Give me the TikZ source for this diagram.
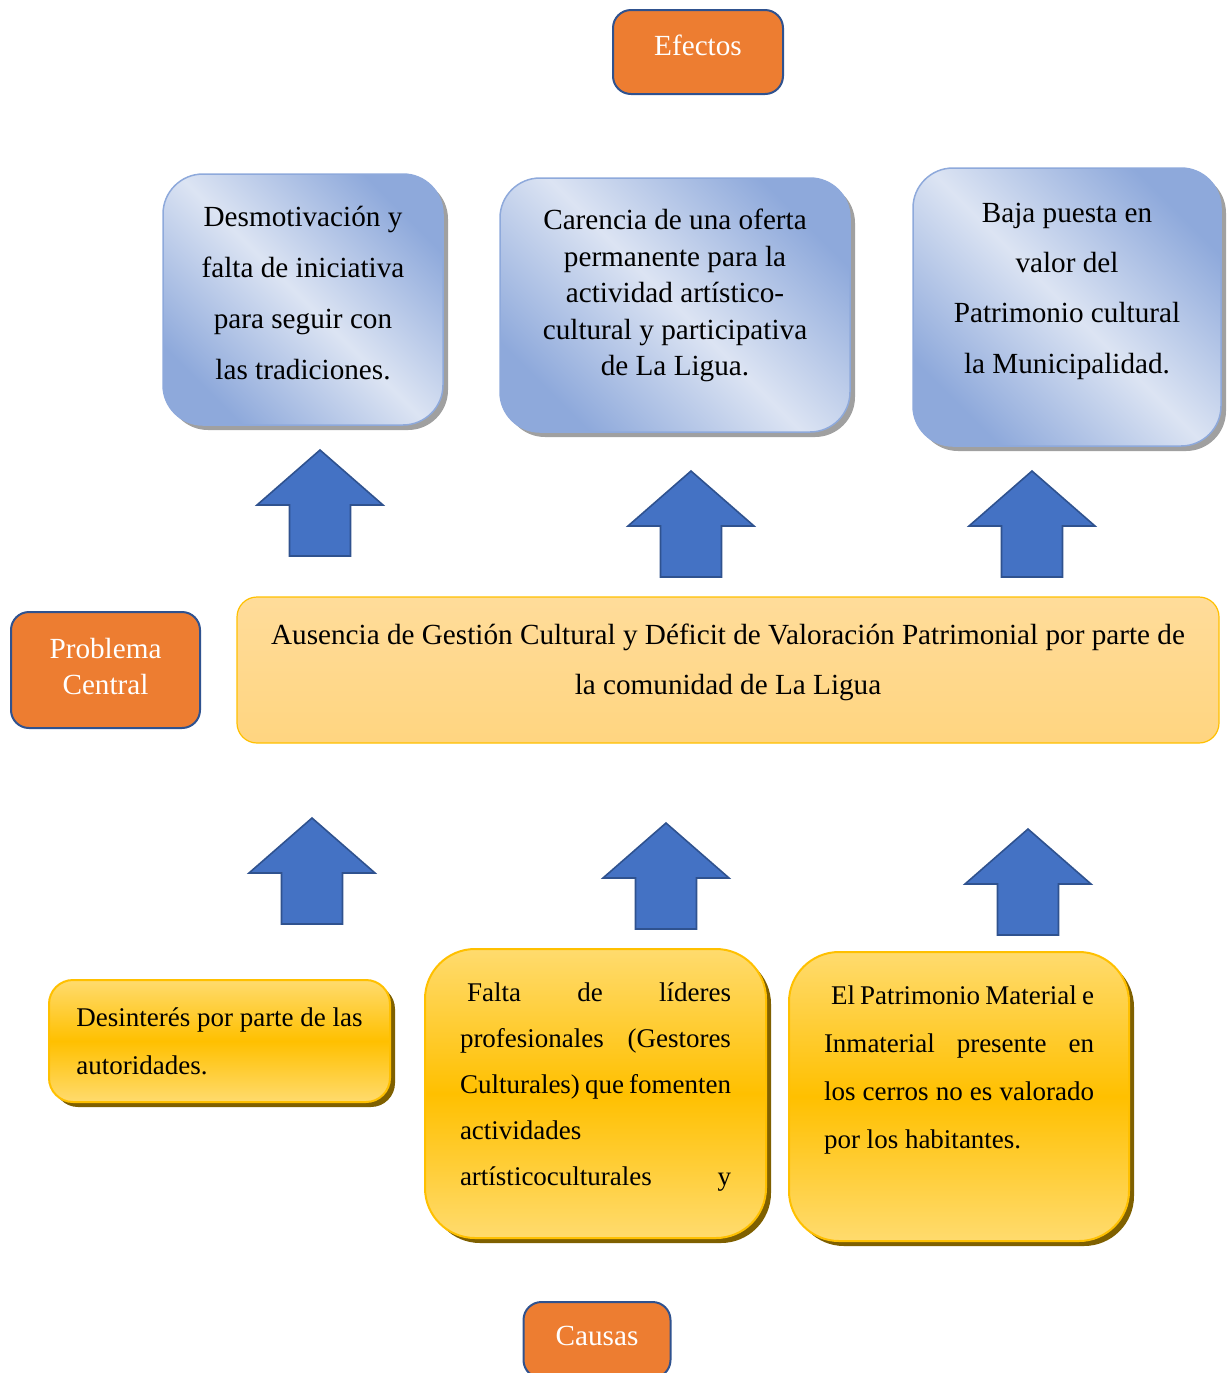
\documentclass[tikz,border=0pt]{standalone}
\usepackage{fontspec}
\setmainfont{Liberation Serif}
\usetikzlibrary{shadows}
\definecolor{naranja}{HTML}{ED7D31}
\definecolor{bordenaranja}{HTML}{2F528F}
\definecolor{azulflecha}{HTML}{4472C4}
\definecolor{bordeflecha}{HTML}{2F528F}
\definecolor{azulclaro}{HTML}{DCE4F3}
\definecolor{azuloscuro}{HTML}{8EA9DB}
\definecolor{sombragris}{HTML}{A0A0A0}
\definecolor{amarillo}{HTML}{FFC000}
\definecolor{amarilloclaro}{HTML}{FFDB6E}
\definecolor{sombraolivo}{HTML}{7F6000}
\definecolor{cremaarriba}{HTML}{FFDC9A}
\definecolor{cremaabajo}{HTML}{FFD580}
\newcommand{\jline}[2]{\makebox[#1][s]{#2}}

\begin{document}
\begin{tikzpicture}[x=0.5pt,y=-0.5pt,
  etiqueta/.style={draw=bordenaranja, line width=1pt, fill=naranja, rounded corners=9pt,
    text=white, font=\fontsize{14.6}{18}\selectfont, align=center, inner sep=0pt},
  efecto/.style={draw=azuloscuro, line width=0.75pt, top color=azuloscuro, bottom color=azuloscuro,
    middle color=azulclaro, shading angle=-45, rounded corners=20pt,
    general shadow={shadow xshift=2.5pt, shadow yshift=-2.5pt, fill=sombragris},
    align=center, inner sep=0pt, font=\fontsize{14.6}{25.5}\selectfont},
  problema/.style={draw=amarillo, line width=0.6pt, top color=cremaarriba, bottom color=cremaabajo,
    rounded corners=10pt, align=center, inner sep=0pt, font=\fontsize{14.6}{25}\selectfont},
  causa/.style={draw=amarillo, line width=1pt, top color=amarilloclaro, bottom color=amarilloclaro,
    middle color=amarillo, rounded corners=25pt,
    general shadow={shadow xshift=2.5pt, shadow yshift=-2.5pt, fill=sombraolivo},
    inner sep=0pt, font=\fontsize{13.5}{24}\selectfont},
  flecha/.pic={\draw[fill=azulflecha, draw=bordeflecha, line width=0.8pt]
    (-30.5,0) -- (-30.5,-51) -- (-63,-51) -- (0,-106) -- (63,-51) -- (30.5,-51) -- (30.5,0) -- cycle;}
]
\useasboundingbox (0,0) rectangle (1231,1373);
\clip (0,0) rectangle (1231,1373);

\node[etiqueta, minimum width=85pt, minimum height=42pt, text depth=7pt] (efectos) at (698,52) {Efectos};

\node[efecto, minimum width=140pt, minimum height=125.5pt, text depth=7pt] (ef1) at (303,299.5)
  {Desmotivación y\\falta de iniciativa\\para seguir con\\las tradiciones.};
\node[efecto, minimum width=175pt, minimum height=127pt, text depth=12.7pt, font=\fontsize{14.6}{18.25}\selectfont] (ef2) at (675,305)
  {Carencia de una oferta\\permanente para la\\actividad artístico-\\cultural y participativa\\de La Ligua.};
\node[efecto, minimum width=154pt, minimum height=139pt, text depth=19pt, font=\fontsize{14.6}{25.2}\selectfont] (ef3) at (1067,307)
  {Baja puesta en\\valor del\\Patrimonio cultural\\la Municipalidad.};

\pic at (320,556) {flecha};
\pic at (691,577) {flecha};
\pic at (1032,577) {flecha};

\node[etiqueta, minimum width=94.5pt, minimum height=58pt, text depth=4pt] (central) at (105.5,670) {Problema\\Central};
\node[problema, minimum width=491pt, minimum height=73pt, text depth=11.2pt] (problema) at (728,670)
  {Ausencia de Gestión Cultural y Déficit de Valoración Patrimonial por parte de\\la comunidad de La Ligua};

\pic at (312,924) {flecha};
\pic at (666,929) {flecha};
\pic at (1028,935) {flecha};

\node[causa, rounded corners=12pt, minimum width=170.5pt, minimum height=61pt, align=left] (c1) at (219.5,1041)
  {Desinterés por parte de las\\autoridades.};
\node[causa, minimum width=170.5pt, minimum height=144.5pt, font=\fontsize{13.5}{23}\selectfont] (c2) at (595.5,1093.5)
  {\parbox[c][110.5pt][t]{135.5pt}{\jline{135.5pt}{\hspace*{3.5pt}Falta de líderes}\\
   \jline{135.5pt}{profesionales (Gestores}\\
   \jline{135.5pt}{Culturales) que fomenten}\\
   actividades\\
   \jline{135.5pt}{artísticoculturales y}}};
\node[causa, minimum width=170pt, minimum height=144.5pt] (c3) at (959,1096.5)
  {\parbox[c][110.5pt][t]{135pt}{\jline{135pt}{\hspace*{3.5pt}El Patrimonio Material e}\\
   \jline{135pt}{Inmaterial presente en}\\
   \jline{135pt}{los cerros no es valorado}\\
   por los habitantes.}};

\node[etiqueta, minimum width=73.5pt, minimum height=38pt, text depth=4pt] (causas) at (597,1340) {Causas};
\end{tikzpicture}
\end{document}
